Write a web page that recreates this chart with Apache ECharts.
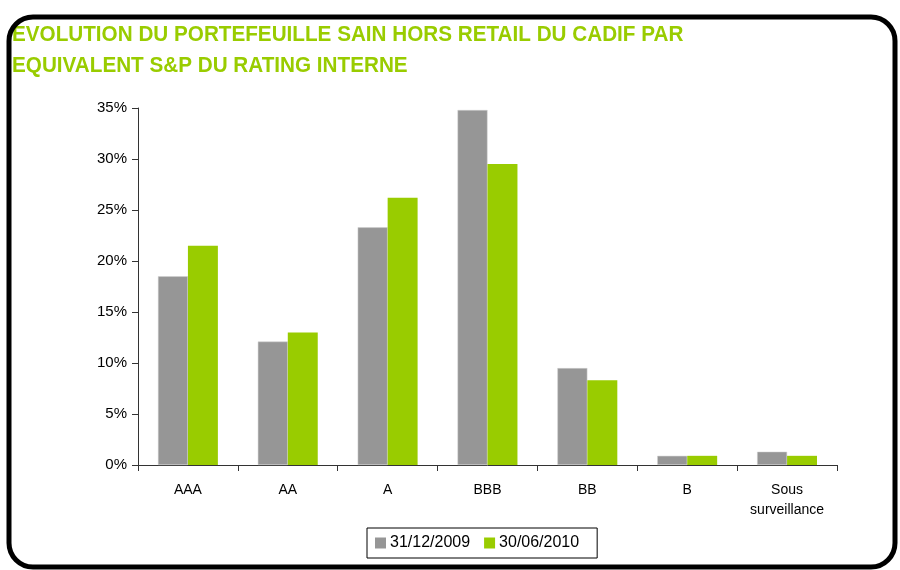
<!DOCTYPE html>
<html><head><meta charset="utf-8">
<script src="https://cdn.jsdelivr.net/npm/echarts@6/dist/echarts.min.js"></script>
<style>html,body{margin:0;padding:0;background:#fff}#c{width:900px;height:570px}</style>
</head><body><div id="c"></div>
<script>
const categories = ['AAA', 'AA', 'A', 'BBB', 'BB', 'B', 'Sous\nsurveillance'];
const series2009 = [18.5, 12.1, 23.3, 34.8, 9.5, 0.9, 1.3];
const series2010 = [21.5, 13.0, 26.2, 29.5, 8.3, 0.9, 0.9];
const seriesNames = ['31/12/2009', '30/06/2010'];
const titleLines = ['EVOLUTION DU PORTEFEUILLE SAIN HORS RETAIL DU CADIF PAR', 'EQUIVALENT S&P DU RATING INTERNE'];

const chart = echarts.init(document.getElementById('c'));
const font = 'Liberation Sans, Arial, sans-serif';
chart.setOption({
  backgroundColor: '#fff',
  animation: false,
  graphic: [
    { type: 'rect', shape: { x: 9, y: 17, width: 886, height: 550, r: 24 },
      style: { fill: 'none', stroke: '#000', lineWidth: 5 }, z: 10 },
    { type: 'text', left: 12, top: 24, scaleX: 0.94, originX: 0,
      style: { text: titleLines[0], font: 'bold 22px ' + font, fill: '#99CC00' } },
    { type: 'text', left: 12, top: 55, scaleX: 0.94, originX: 0,
      style: { text: titleLines[1], font: 'bold 22px ' + font, fill: '#99CC00' } }
  ],
  legend: {
    left: 367, top: 528,
    data: seriesNames,
    itemWidth: 11, itemHeight: 11, itemGap: 14,
    icon: 'rect',
    itemStyle: { borderWidth: 0 },
    borderColor: '#000', borderWidth: 1,
    padding: [7, 18, 7, 8],
    textStyle: { fontFamily: font, fontSize: 16, color: '#000', padding: [0, 0, 0, -1] }
  },
  grid: { left: 138, right: 63, top: 108, bottom: 105 },
  xAxis: {
    type: 'category', data: categories,
    axisLine: { lineStyle: { color: '#333', width: 1 } },
    axisTick: { show: true, length: 6, lineStyle: { color: '#333' } },
    axisLabel: { fontFamily: font, fontSize: 14, color: '#000', margin: 15, lineHeight: 20 }
  },
  yAxis: {
    type: 'value', min: 0, max: 35, interval: 5,
    axisLine: { show: true, lineStyle: { color: '#333', width: 1 } },
    axisTick: { show: true, length: 6, lineStyle: { color: '#333' } },
    splitLine: { show: false },
    axisLabel: { formatter: '{value}%', fontFamily: font, fontSize: 15, color: '#000', margin: 11 }
  },
  series: [
    { name: seriesNames[0], type: 'bar', data: series2009, barWidth: '30%', barGap: '0%',
      itemStyle: { color: '#969696', borderColor: '#d0d0d0', borderWidth: 0.5 } },
    { name: seriesNames[1], type: 'bar', data: series2010, barWidth: '30%', barGap: '0%',
      itemStyle: { color: '#99CC00' } }
  ]
});
</script></body></html>
